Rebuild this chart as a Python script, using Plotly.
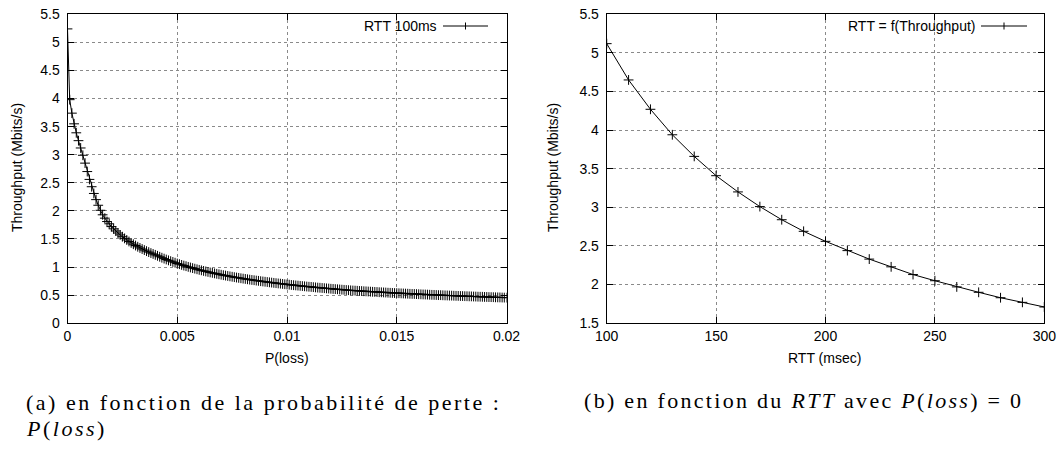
import plotly.graph_objects as go

W, H = 1058, 457

# left panel: throughput vs loss probability (RTT 100 ms)
P_LOSS = [
    0.0000, 0.0001, 0.0002, 0.0003, 0.0004, 0.0005, 0.0006, 0.0007, 0.0008, 0.0009,
    0.0010, 0.0011, 0.0012, 0.0013, 0.0014, 0.0015, 0.0016, 0.0017, 0.0018, 0.0019,
    0.0020, 0.0021, 0.0022, 0.0023, 0.0024, 0.0025, 0.0026, 0.0027, 0.0028, 0.0029,
    0.0030, 0.0031, 0.0032, 0.0033, 0.0034, 0.0035, 0.0036, 0.0037, 0.0038, 0.0039,
    0.0040, 0.0041, 0.0042, 0.0043, 0.0044, 0.0045, 0.0046, 0.0047, 0.0048, 0.0049,
    0.0050, 0.0051, 0.0052, 0.0053, 0.0054, 0.0055, 0.0056, 0.0057, 0.0058, 0.0059,
    0.0060, 0.0061, 0.0062, 0.0063, 0.0064, 0.0065, 0.0066, 0.0067, 0.0068, 0.0069,
    0.0070, 0.0071, 0.0072, 0.0073, 0.0074, 0.0075, 0.0076, 0.0077, 0.0078, 0.0079,
    0.0080, 0.0081, 0.0082, 0.0083, 0.0084, 0.0085, 0.0086, 0.0087, 0.0088, 0.0089,
    0.0090, 0.0091, 0.0092, 0.0093, 0.0094, 0.0095, 0.0096, 0.0097, 0.0098, 0.0099,
    0.0100, 0.0101, 0.0102, 0.0103, 0.0104, 0.0105, 0.0106, 0.0107, 0.0108, 0.0109,
    0.0110, 0.0111, 0.0112, 0.0113, 0.0114, 0.0115, 0.0116, 0.0117, 0.0118, 0.0119,
    0.0120, 0.0121, 0.0122, 0.0123, 0.0124, 0.0125, 0.0126, 0.0127, 0.0128, 0.0129,
    0.0130, 0.0131, 0.0132, 0.0133, 0.0134, 0.0135, 0.0136, 0.0137, 0.0138, 0.0139,
    0.0140, 0.0141, 0.0142, 0.0143, 0.0144, 0.0145, 0.0146, 0.0147, 0.0148, 0.0149,
    0.0150, 0.0151, 0.0152, 0.0153, 0.0154, 0.0155, 0.0156, 0.0157, 0.0158, 0.0159,
    0.0160, 0.0161, 0.0162, 0.0163, 0.0164, 0.0165, 0.0166, 0.0167, 0.0168, 0.0169,
    0.0170, 0.0171, 0.0172, 0.0173, 0.0174, 0.0175, 0.0176, 0.0177, 0.0178, 0.0179,
    0.0180, 0.0181, 0.0182, 0.0183, 0.0184, 0.0185, 0.0186, 0.0187, 0.0188, 0.0189,
    0.0190, 0.0191, 0.0192, 0.0193, 0.0194, 0.0195, 0.0196, 0.0197, 0.0198, 0.0199,
    0.0200,
]
THR_LOSS = [
    5.24, 3.98, 3.74, 3.55, 3.39, 3.25, 3.12, 2.99, 2.85, 2.70,
    2.56, 2.43, 2.31, 2.20, 2.10, 2.01, 1.93, 1.87, 1.81, 1.77,
    1.72, 1.680, 1.642, 1.606, 1.572, 1.540, 1.510, 1.482, 1.455, 1.430,
    1.406, 1.383, 1.361, 1.340, 1.321, 1.302, 1.283, 1.266, 1.249, 1.233,
    1.217, 1.200, 1.183, 1.166, 1.150, 1.134, 1.119, 1.105, 1.091, 1.077,
    1.063, 1.051, 1.038, 1.026, 1.015, 1.003, 0.992, 0.981, 0.971, 0.960,
    0.950, 0.941, 0.931, 0.922, 0.913, 0.904, 0.896, 0.887, 0.879, 0.871,
    0.863, 0.855, 0.848, 0.841, 0.834, 0.827, 0.820, 0.813, 0.807, 0.800,
    0.794, 0.788, 0.782, 0.776, 0.770, 0.765, 0.759, 0.754, 0.748, 0.743,
    0.738, 0.733, 0.728, 0.723, 0.718, 0.713, 0.708, 0.704, 0.699, 0.694,
    0.690, 0.686, 0.681, 0.677, 0.673, 0.669, 0.665, 0.661, 0.657, 0.653,
    0.649, 0.646, 0.642, 0.638, 0.634, 0.631, 0.627, 0.624, 0.620, 0.617,
    0.613, 0.610, 0.607, 0.604, 0.601, 0.597, 0.594, 0.591, 0.588, 0.585,
    0.582, 0.580, 0.577, 0.574, 0.572, 0.569, 0.567, 0.564, 0.562, 0.559,
    0.557, 0.555, 0.552, 0.550, 0.548, 0.546, 0.543, 0.541, 0.539, 0.537,
    0.535, 0.533, 0.531, 0.529, 0.527, 0.525, 0.523, 0.521, 0.520, 0.518,
    0.516, 0.514, 0.512, 0.511, 0.509, 0.507, 0.505, 0.504, 0.502, 0.500,
    0.499, 0.497, 0.495, 0.494, 0.492, 0.491, 0.489, 0.487, 0.486, 0.484,
    0.483, 0.481, 0.480, 0.478, 0.477, 0.475, 0.474, 0.472, 0.471, 0.470,
    0.468, 0.467, 0.465, 0.464, 0.463, 0.461, 0.460, 0.459, 0.457, 0.456,
    0.455,
]

# right panel: throughput vs RTT, no loss
RTT_MS = [100, 110, 120, 130, 140, 150, 160, 170, 180, 190, 200,
          210, 220, 230, 240, 250, 260, 270, 280, 290, 300]
THR_RTT = [5.12, 4.65, 4.27, 3.94, 3.66, 3.41, 3.20, 3.01, 2.84, 2.69, 2.56,
           2.44, 2.33, 2.23, 2.13, 2.05, 1.97, 1.90, 1.83, 1.77, 1.71]

X1_TICKS = [0, 0.005, 0.01, 0.015, 0.02]
X1_TEXT = ["0", "0.005", "0.01", "0.015", "0.02"]
Y1_TICKS = [0, 0.5, 1, 1.5, 2, 2.5, 3, 3.5, 4, 4.5, 5, 5.5]
Y1_TEXT = ["0", "0.5", "1", "1.5", "2", "2.5", "3", "3.5", "4", "4.5", "5", "5.5"]
X2_TICKS = [100, 150, 200, 250, 300]
Y2_TICKS = [1.5, 2, 2.5, 3, 3.5, 4, 4.5, 5, 5.5]
Y2_TEXT = ["1.5", "2", "2.5", "3", "3.5", "4", "4.5", "5", "5.5"]

SANS = "Liberation Sans"
SERIF = "Liberation Serif"


def fx(p):
    # screen pixel -> paper fraction
    return p / W


def fy(p):
    return 1 - p / H


# plot boxes in screen pixels
L1, R1 = 67.5, 506.5
L2, R2 = 606.7, 1044.3
TOP, BOT = 14.3, 323.2

marker = dict(symbol="cross-thin", size=7, line=dict(width=1, color="black"), color="black")

fig = go.Figure()
fig.add_trace(go.Scatter(x=P_LOSS, y=THR_LOSS, mode="lines+markers",
                         line=dict(color="black", width=1), marker=marker,
                         xaxis="x", yaxis="y", showlegend=False))
fig.add_trace(go.Scatter(x=RTT_MS, y=THR_RTT, mode="lines+markers",
                         line=dict(color="black", width=1), marker=marker,
                         xaxis="x2", yaxis="y2", showlegend=False))

axis_style = dict(
    showline=True, linecolor="black", linewidth=1, mirror="allticks",
    ticks="inside", ticklen=6, tickcolor="black", tickwidth=1,
    showgrid=True, gridcolor="#8a8a8a", griddash="dot", gridwidth=1,
    zeroline=False, automargin=False,
    tickfont=dict(family=SANS, size=14, color="black"),
)

fig.update_layout(
    width=W, height=H, autosize=False,
    margin=dict(l=0, r=0, t=0, b=0, pad=0, autoexpand=False),
    paper_bgcolor="white", plot_bgcolor="white",
    showlegend=False, hovermode=False,
    xaxis=dict(domain=[fx(L1), fx(R1)], range=[0, 0.02], tickvals=X1_TICKS,
               ticktext=X1_TEXT, anchor="y", **axis_style),
    yaxis=dict(domain=[fy(BOT), fy(TOP)], range=[0, 5.5], tickvals=Y1_TICKS,
               ticktext=Y1_TEXT, anchor="x", ticklabelstandoff=4, **axis_style),
    xaxis2=dict(domain=[fx(L2), fx(R2)], range=[100, 300], tickvals=X2_TICKS,
                anchor="y2", **axis_style),
    yaxis2=dict(domain=[fy(BOT), fy(TOP)], range=[1.5, 5.5], tickvals=Y2_TICKS,
                ticktext=Y2_TEXT, anchor="x2", ticklabelstandoff=4, **axis_style),
)


def note(text, x, y, size=14, family=SANS, xanchor="center", angle=0):
    fig.add_annotation(text=text, x=fx(x), y=fy(y), xref="paper", yref="paper",
                       xanchor=xanchor, yanchor="middle", showarrow=False,
                       textangle=angle, font=dict(family=family, size=size, color="black"))


# axis titles
note("Throughput (Mbits/s)", 17, 168, angle=-90)
note("Throughput (Mbits/s)", 553, 168, angle=-90)
note("P(loss)", 287, 358)
note("RTT (msec)", 824, 358)

# gnuplot style keys, sample to the right of the text
note("RTT 100ms", 439, 26, xanchor="right")
note("RTT = f(Throughput)", 977, 26, xanchor="right")
for x0, x1 in [(443, 488), (981, 1027)]:
    fig.add_shape(type="line", xref="paper", yref="paper",
                  x0=fx(x0), x1=fx(x1), y0=fy(26), y1=fy(26),
                  line=dict(color="black", width=1))
    xm = (x0 + x1) / 2
    fig.add_shape(type="line", xref="paper", yref="paper",
                  x0=fx(xm), x1=fx(xm), y0=fy(22.5), y1=fy(29.5),
                  line=dict(color="black", width=1))

# sub-captions
sp_a = "<span style='letter-spacing:2.5px'>%s</span>"
sp_b = "<span style='letter-spacing:2.3px'>%s</span>"
note(sp_a % "(a) en fonction de la probabilité de perte :", 24, 402, size=22,
     family=SERIF, xanchor="left")
note(sp_a % "<i>P</i>(<i>loss</i>)", 24, 428, size=22, family=SERIF, xanchor="left")
note(sp_b % "(b) en fonction du <i>RTT</i> avec <i>P</i>(<i>loss</i>) = 0", 582, 400,
     size=22, family=SERIF, xanchor="left")

# drop the default body margin so the figure sits at the window's top-left
fig.write_html("out.html", config={"displayModeBar": False, "staticPlot": True},
               post_script="document.body.style.margin='0px';"
                           "document.body.style.overflow='hidden';")
